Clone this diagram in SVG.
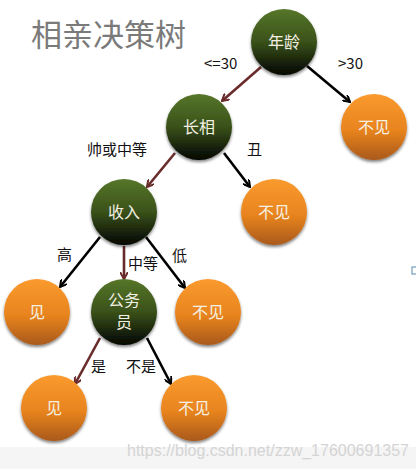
<svg xmlns="http://www.w3.org/2000/svg" width="416" height="469" viewBox="0 0 416 469">
<defs>
<linearGradient id="g" x1="0" y1="0" x2="0" y2="1">
<stop offset="0" stop-color="#56762a"/>
<stop offset="0.5" stop-color="#3a5119"/>
<stop offset="1" stop-color="#030502"/>
</linearGradient>
<linearGradient id="o" x1="0" y1="0" x2="0" y2="1">
<stop offset="0" stop-color="#fa9a2e"/>
<stop offset="0.55" stop-color="#e8841f"/>
<stop offset="1" stop-color="#a9591a"/>
</linearGradient>
<filter id="sh" x="-20%" y="-20%" width="140%" height="140%">
<feGaussianBlur in="SourceAlpha" stdDeviation="1.5"/>
<feOffset dx="0" dy="1.5"/>
<feComponentTransfer><feFuncA type="linear" slope="0.5"/></feComponentTransfer>
<feMerge><feMergeNode/><feMergeNode in="SourceGraphic"/></feMerge>
</filter>
<marker id="ab" markerWidth="8" markerHeight="8" refX="7" refY="4" orient="auto" markerUnits="userSpaceOnUse" viewBox="0 0 8 8">
<path d="M0,0 L7,4 L0,8" fill="none" stroke="#000" stroke-width="2"/>
</marker>
<marker id="ar" markerWidth="8" markerHeight="8" refX="7" refY="4" orient="auto" markerUnits="userSpaceOnUse" viewBox="0 0 8 8">
<path d="M0,0 L7,4 L0,8" fill="none" stroke="#6a2b2b" stroke-width="2"/>
</marker>
<style>
.gn{fill:url(#g);filter:url(#sh)}
.on{fill:url(#o);filter:url(#sh)}
.nt{font-family:"Noto Sans CJK SC","Liberation Sans",sans-serif;font-size:16px;fill:#f4f1e4;text-anchor:middle}
.lb{font-family:"Noto Sans CJK SC","Liberation Sans",sans-serif;font-size:15px;fill:#111}
.cb{stroke:#000;stroke-width:2.6;fill:none;marker-end:url(#ab)}
.cr{stroke:#6a2b2b;stroke-width:2.6;fill:none;marker-end:url(#ar)}
</style>
</defs>
<rect width="416" height="469" fill="#fff"/>
<rect x="0" y="447" width="416" height="22" fill="#f5f5f5"/>
<text x="31" y="46" font-family="Noto Sans CJK SC,sans-serif" font-size="31" fill="#7a7a7a">相亲决策树</text>
<g id="connectors">
<line class="cr" x1="261" y1="67" x2="222" y2="101"/>
<line class="cb" x1="307" y1="66" x2="350" y2="102"/>
<line class="cr" x1="175" y1="153" x2="147" y2="187"/>
<line class="cb" x1="224" y1="153" x2="250" y2="187"/>
<line class="cb" x1="100" y1="237" x2="60" y2="287"/>
<line class="cr" x1="124" y1="246" x2="124" y2="279"/>
<line class="cb" x1="146" y1="237" x2="185" y2="288"/>
<line class="cr" x1="100" y1="338" x2="75" y2="384"/>
<line class="cb" x1="147" y1="338" x2="171" y2="384"/>
</g>
<g id="labels">
<text class="lb" x="204" y="69">&lt;=30</text>
<text class="lb" x="338" y="69">&gt;30</text>
<text class="lb" x="87" y="155">帅或中等</text>
<text class="lb" x="247" y="155">丑</text>
<text class="lb" x="57" y="260">高</text>
<text class="lb" x="128" y="269">中等</text>
<text class="lb" x="172" y="261">低</text>
<text class="lb" x="91" y="372">是</text>
<text class="lb" x="126" y="372">不是</text>
</g>
<g id="n-age"><circle class="gn" cx="284" cy="42" r="33"/><text class="nt" x="284" y="48">年龄</text></g>
<g id="n-no1"><circle class="on" cx="374" cy="127" r="33"/><text class="nt" x="374" y="133">不见</text></g>
<g id="n-look"><circle class="gn" cx="199" cy="127" r="33"/><text class="nt" x="199" y="133">长相</text></g>
<g id="n-no2"><circle class="on" cx="274" cy="212" r="33"/><text class="nt" x="274" y="218">不见</text></g>
<g id="n-income"><circle class="gn" cx="124" cy="212" r="33"/><text class="nt" x="124" y="218">收入</text></g>
<g id="n-yes1"><circle class="on" cx="37" cy="312" r="33"/><text class="nt" x="37" y="318">见</text></g>
<g id="n-civil"><circle class="gn" cx="124" cy="312" r="33"/><text class="nt" x="124" y="306">公务</text><text class="nt" x="124" y="328">员</text></g>
<g id="n-no3"><circle class="on" cx="208" cy="312" r="33"/><text class="nt" x="208" y="318">不见</text></g>
<g id="n-yes2"><circle class="on" cx="54" cy="408" r="33"/><text class="nt" x="54" y="414">见</text></g>
<g id="n-no4"><circle class="on" cx="194" cy="408" r="33"/><text class="nt" x="194" y="414">不见</text></g>
<text x="127" y="456" font-family="Liberation Sans,sans-serif" font-size="16" fill="#d4d4d4">https://blog.csdn.net/zzw_17600691357</text>
<rect x="412" y="267" width="5" height="7" fill="none" stroke="#5a8ab0" stroke-width="1"/>
</svg>
